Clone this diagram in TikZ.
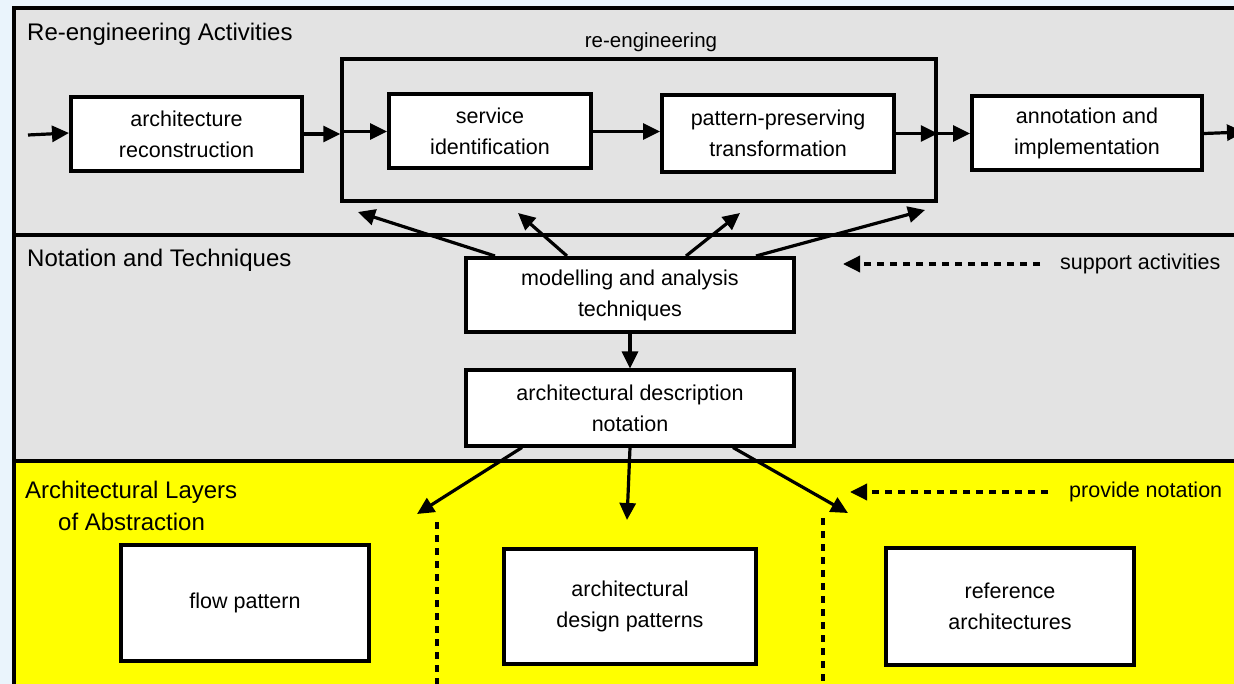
\documentclass[tikz,border=0pt]{standalone}
\usepackage{fontspec}
\setmainfont{Liberation Sans}
\usetikzlibrary{arrows.meta}
\definecolor{bgblue}{HTML}{EAF4FC}
\definecolor{bandgray}{HTML}{E3E3E3}
\definecolor{bandyellow}{HTML}{FFFF00}
\tikzset{
 box/.style={draw, line width=4pt, fill=white, align=center, inner sep=0pt, font=\fontsize{21.5}{31}\selectfont},
 arr/.style={line width=3.2pt, -{Triangle[length=17pt,width=16pt]}},
 dasharr/.style={line width=3.5pt, dash pattern=on 7pt off 6pt, -{Triangle[length=17pt,width=16pt]}},
 dotline/.style={line width=3.5pt, dash pattern=on 7pt off 6pt},
 heading/.style={anchor=west, inner sep=0pt, font=\fontsize{24}{28}\selectfont},
 lab/.style={inner sep=0pt, font=\fontsize{21.5}{26}\selectfont},
 frameline/.style={line width=3.5pt},
}
\begin{document}
\begin{tikzpicture}[x=1pt,y=-1pt]
\useasboundingbox (0,0) rectangle (1234,684);
\clip (0,0) rectangle (1234,684);
% background and bands
\fill[bgblue] (0,0) rectangle (1234,684);
\fill[bandgray] (14,8) rectangle (1240,461);
\fill[bandyellow] (14,461) rectangle (1240,690);
\draw[frameline] (14,690) -- (14,8) -- (1240,8);
\draw[frameline] (14,235) -- (1240,235);
\draw[frameline] (14,461) -- (1240,461);
% headings
\node[heading] (h1) at (27,34) {Re-engineering Activities};
\node[heading] (h2) at (27,260) {Notation and Techniques};
\node[heading] (h3) at (25,492) {Architectural Layers};
\node[heading] (h4) at (58,522) {of Abstraction};
% re-engineering container
\node[draw, line width=3.5pt, minimum width=594pt, minimum height=142pt, inner sep=0pt] (cont) at (639,130) {};
\node[lab, font=\fontsize{20.5}{24}\selectfont] (contlab) at (651,42) {re-engineering};
% top row boxes
\node[box, minimum width=231pt, minimum height=74pt] (recon) at (186.5,134) {architecture\\reconstruction};
\node[box, minimum width=202pt, minimum height=74pt] (serv) at (490,131.5) {service\\identification};
\node[box, minimum width=232pt, minimum height=77pt] (pat) at (778,133.5) {pattern-preserving\\transformation};
\node[box, minimum width=230pt, minimum height=74pt] (ann) at (1087,133.5) {annotation and\\implementation};
% middle boxes
\node[box, minimum width=328pt, minimum height=74pt] (mod) at (630,295) {modelling and analysis\\techniques};
\node[box, minimum width=328pt, minimum height=75pt] (ad) at (630,408) {architectural description\\notation};
% bottom boxes
\node[box, minimum width=248pt, minimum height=116pt] (flow) at (245,603) {flow pattern};
\node[box, minimum width=252pt, minimum height=115pt] (design) at (630,606) {architectural\\design patterns};
\node[box, minimum width=248pt, minimum height=117pt] (ref) at (1010,606.5) {reference\\architectures};
% side labels
\node[lab, anchor=west] (supp) at (1060,264) {support activities};
\node[lab, anchor=west] (prov) at (1069,492) {provide notation};
% coordinates
\coordinate (in) at (28,135);
\coordinate (out) at (1244,132);
\coordinate (t1) at (358,212);
\coordinate (t2) at (518,213);
\coordinate (t3) at (740,213);
\coordinate (t4) at (925,210);
\coordinate (b1) at (417,514);
\coordinate (b2) at (627,520);
\coordinate (b3) at (848,513);
\coordinate (sa) at (843,264);
\coordinate (pn) at (850,492);
\coordinate (d1a) at (437,522);
\coordinate (d1b) at (437,690);
\coordinate (d2a) at (823,518);
\coordinate (d2b) at (823,690);
% flow arrows
\draw[arr] (in) -- ([yshift=1pt]recon.west);
\draw[arr] (recon.east) -- (recon.east -| cont.west);
\draw[arr] (cont.west |- serv.west) -- (serv.west);
\draw[arr] (serv.east) -- (serv.east -| pat.west);
\draw[arr] (pat.east) -- (pat.east -| cont.east);
\draw[arr] (cont.east |- ann.west) -- (ann.west);
\draw[arr] (ann.east) -- (out);
% support arrows
\draw[arr] ([xshift=-135pt]mod.north) -- (t1);
\draw[arr] ([xshift=-63pt]mod.north) -- (t2);
\draw[arr] ([xshift=56pt]mod.north) -- (t3);
\draw[arr] ([xshift=126pt]mod.north) -- (t4);
\draw[arr] (mod.south) -- (ad.north);
% notation arrows
\draw[arr] ([xshift=-108pt]ad.south) -- (b1);
\draw[arr] (ad.south) -- (b2);
\draw[arr] ([xshift=103pt]ad.south) -- (b3);
% dashed arrows
\draw[dasharr] ([xshift=-20pt]supp.west) -- (sa);
\draw[dasharr] ([xshift=-21pt]prov.west) -- (pn);
% dotted separators
\draw[dotline] (d1a) -- (d1b);
\draw[dotline] (d2a) -- (d2b);
\end{tikzpicture}
\end{document}
